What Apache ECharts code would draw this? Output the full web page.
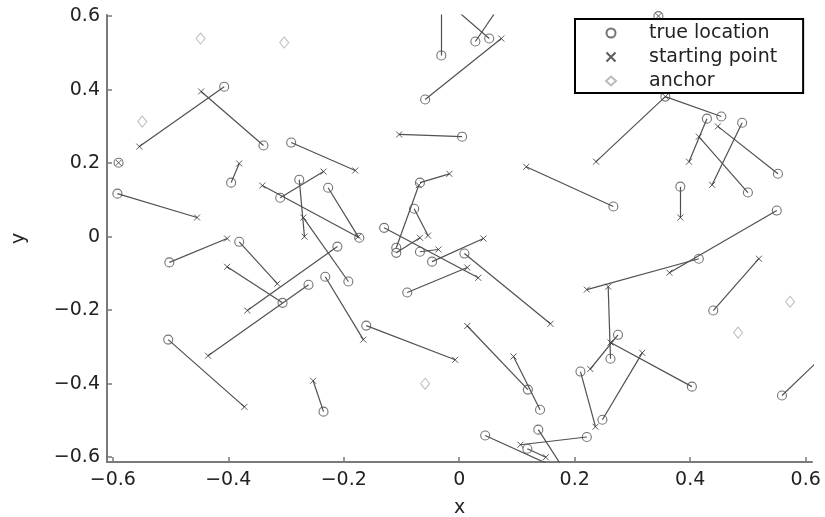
<html>
<head>
<meta charset="utf-8">
<title>localization</title>
<script src="https://cdn.jsdelivr.net/npm/echarts@6/dist/echarts.min.js"></script>
<style>
body{margin:0; background:#fff;}
#main{width:825px; height:517px;}
</style>
</head>
<body>
<div id="main"></div>
<script type="text/javascript">
// true location of each node (circle)
var trueLoc = [
  [-0.407, 0.408], [-0.339, 0.248], [-0.291, 0.256], [-0.590, 0.201], [-0.395, 0.147],
  [-0.592, 0.117], [-0.310, 0.106], [-0.173, -0.003], [-0.277, 0.155], [-0.192, -0.122],
  [-0.227, 0.133], [-0.211, -0.027], [-0.232, -0.109], [-0.381, -0.014], [-0.306, -0.180],
  [-0.502, -0.070], [-0.504, -0.280], [-0.261, -0.131], [-0.235, -0.476], [-0.161, -0.242],
  [-0.031, 0.493], [0.052, 0.539], [0.028, 0.531], [-0.059, 0.373], [0.005, 0.272],
  [-0.068, 0.147], [-0.109, -0.030], [-0.078, 0.076], [-0.130, 0.024], [-0.109, -0.044],
  [-0.068, -0.041], [-0.047, -0.068], [0.009, -0.046], [-0.090, -0.152], [0.119, -0.416],
  [0.140, -0.471], [0.045, -0.541], [0.137, -0.525], [0.221, -0.545], [0.118, -0.577],
  [0.267, 0.082], [0.357, 0.381], [0.454, 0.327], [0.429, 0.321], [0.500, 0.120],
  [0.490, 0.310], [0.552, 0.171], [0.383, 0.136], [0.415, -0.060], [0.550, 0.071],
  [0.262, -0.332], [0.440, -0.201], [0.275, -0.267], [0.403, -0.408], [0.210, -0.367],
  [0.248, -0.498], [0.559, -0.432], [0.345, 0.600]
];
// starting point of each node (x), same order as trueLoc
var startPt = [
  [-0.554, 0.245], [-0.447, 0.395], [-0.180, 0.180], [-0.590, 0.201], [-0.381, 0.199],
  [-0.454, 0.052], [-0.235, 0.177], [-0.341, 0.139], [-0.268, 0.000], [-0.270, 0.052],
  [-0.175, 0.000], [-0.367, -0.201], [-0.166, -0.280], [-0.315, -0.128], [-0.402, -0.082],
  [-0.402, -0.005], [-0.372, -0.463], [-0.435, -0.324], [-0.253, -0.392], [-0.007, -0.335],
  [-0.031, 0.625], [-0.015, 0.630], [0.071, 0.630], [0.073, 0.539], [-0.104, 0.278],
  [-0.017, 0.171], [-0.070, 0.140], [-0.054, 0.003], [0.033, -0.112], [-0.068, -0.003],
  [-0.036, -0.035], [0.042, -0.005], [0.158, -0.237], [0.014, -0.084], [0.014, -0.243],
  [0.094, -0.326], [0.170, -0.630], [0.180, -0.630], [0.106, -0.566], [0.150, -0.600],
  [0.116, 0.190], [0.237, 0.204], [0.357, 0.381], [0.398, 0.204], [0.415, 0.272],
  [0.438, 0.141], [0.448, 0.300], [0.383, 0.052], [0.221, -0.144], [0.364, -0.098],
  [0.258, -0.136], [0.519, -0.060], [0.227, -0.360], [0.262, -0.288], [0.236, -0.517],
  [0.317, -0.316], [0.640, -0.310], [0.345, 0.600]
];
var anchors = [
  [-0.549, 0.313], [-0.448, 0.539], [-0.303, 0.528], [0.573, -0.177], [0.483, -0.261], [-0.059, -0.400]
];
var ticks = [-0.6, -0.4, -0.2, 0, 0.2, 0.4, 0.6];

var fontName = 'DejaVu Sans';
var axisGray = '#7a7a7a';
var markGray = '#505050';

var fmt = function(v) {
  return (v < 0 ? '\u2212' : '') + Math.abs(v);
};

var links = [];
for (var i = 0; i < trueLoc.length; i++) {
  links.push({ coords: [trueLoc[i], startPt[i]] });
}

var axisCommon = function(name, min, max) {
  return {
    type: 'value',
    min: min,
    max: max,
    name: name,
    nameLocation: 'middle',
    nameTextStyle: { fontFamily: fontName, fontSize: 19, color: '#222' },
    axisLine: { show: true, onZero: false, lineStyle: { color: axisGray, width: 2 } },
    axisTick: { show: true, inside: true, length: 5, customValues: ticks, lineStyle: { color: axisGray, width: 1.5 } },
    axisLabel: { customValues: ticks, formatter: fmt, fontFamily: fontName, fontSize: 19, color: '#222' },
    splitLine: { show: false }
  };
};

var myChart = echarts.init(document.getElementById('main'));
var xAx = axisCommon('x', -0.61, 0.611);
xAx.nameGap = 37;
xAx.axisLabel.margin = 9;
var yAx = axisCommon('y', -0.613, 0.603);
yAx.nameGap = 78;
yAx.axisLabel.margin = 7;

var option = {
  backgroundColor: '#fff',
  animation: false,
  grid: { left: 107, right: 13, top: 15, bottom: 55, containLabel: false, outerBoundsMode: 'none' },
  xAxis: xAx,
  yAxis: yAx,
  legend: {
    orient: 'vertical',
    left: 575,
    top: 19,
    padding: [4, 26, 2, 30],
    itemWidth: 10,
    itemHeight: 9,
    itemGap: 4,
    borderColor: '#000',
    borderWidth: 2,
    backgroundColor: '#fff',
    textStyle: { fontFamily: fontName, fontSize: 19, color: '#222', lineHeight: 20, padding: [0, 0, 0, 28] },
    data: ['true location', 'starting point', 'anchor']
  },
  series: [
    {
      name: 'links',
      type: 'lines',
      coordinateSystem: 'cartesian2d',
      polyline: false,
      clip: true,
      silent: true,
      lineStyle: { color: markGray, width: 1.2, opacity: 1 },
      data: links,
      z: 1
    },
    {
      name: 'true location',
      type: 'scatter',
      symbol: 'circle',
      symbolSize: 9,
      clip: true,
      itemStyle: { color: 'rgba(0,0,0,0)', borderColor: markGray, borderWidth: 1.1 },
      data: trueLoc,
      z: 3
    },
    {
      name: 'starting point',
      type: 'scatter',
      symbol: 'path://M0,0L10,10M10,0L0,10',
      symbolSize: 6,
      clip: true,
      itemStyle: { color: 'rgba(0,0,0,0)', borderColor: '#333', borderWidth: 1 },
      data: startPt,
      z: 3
    },
    {
      name: 'anchor',
      type: 'scatter',
      symbol: 'diamond',
      symbolSize: [9, 11],
      clip: true,
      itemStyle: { color: 'rgba(0,0,0,0)', borderColor: '#aaa', borderWidth: 1 },
      data: anchors,
      z: 3
    }
  ]
};

myChart.setOption(option);
</script>
</body>
</html>
